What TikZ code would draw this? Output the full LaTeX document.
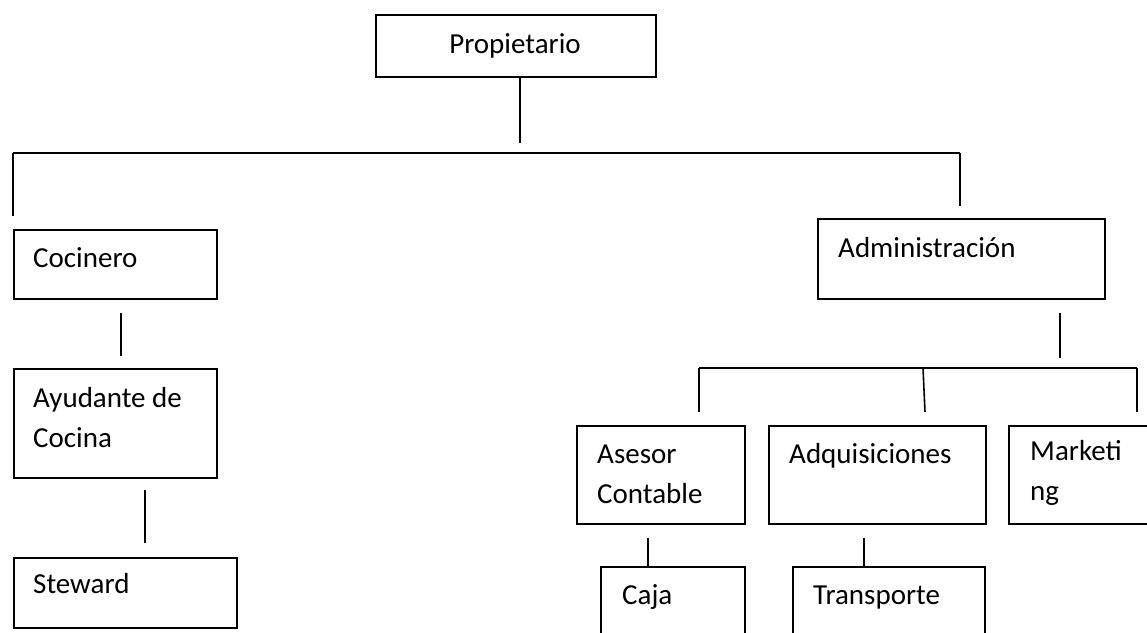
\documentclass[tikz,border=0pt]{standalone}
\usepackage{fontspec}
\setmainfont{Carlito}
\usetikzlibrary{calc}
\newcommand{\lh}{\rule{0pt}{24pt}}
\begin{document}
\begin{tikzpicture}[x=1pt,y=-1pt,
  box/.style={draw, line width=1.6pt, rectangle, anchor=north west, inner sep=0pt},
  lbl/.style={anchor=north west, inner sep=0pt, align=left, font=\fontsize{29}{40.5}\selectfont},
  link/.style={line width=1.6pt}]
\useasboundingbox (0,0) rectangle (1147,632);
% boxes
\node[box, minimum width=280pt, minimum height=62pt] (prop) at (375,14) {};
\node[box, minimum width=203pt, minimum height=69pt] (coc) at (13,229) {};
\node[box, minimum width=203pt, minimum height=109pt] (ayu) at (13,368) {};
\node[box, minimum width=223pt, minimum height=70pt] (stew) at (13,557) {};
\node[box, minimum width=287pt, minimum height=80pt] (adm) at (817,218) {};
\node[box, minimum width=168pt, minimum height=98pt] (ase) at (576,425) {};
\node[box, minimum width=217pt, minimum height=98pt] (adq) at (768,425) {};
\node[box, minimum width=160pt, minimum height=98pt] (mkt) at (1008,425) {};
\node[box, minimum width=144pt, minimum height=90pt] (caja) at (600,566) {};
\node[box, minimum width=192pt, minimum height=90pt] (trans) at (792,566) {};
% texts
\node[anchor=base, inner sep=0pt, font=\fontsize{29}{40.5}\selectfont] (tprop) at (515,53) {Propietario};
\node[lbl] (tcoc) at (33,243) {\lh Cocinero};
\node[lbl] (tayu) at (33,383) {\lh Ayudante de\\Cocina};
\node[lbl] (tstew) at (33,569) {\lh Steward};
\node[lbl] (tadm) at (838,233) {\lh Administración};
\node[lbl] (tase) at (597,439) {\lh Asesor\\Contable};
\node[lbl] (tadq) at (789,439) {\lh Adquisiciones};
\node[lbl] (tmkt) at (1030,436) {\lh Marketi\\ng};
\node[lbl] (tcaja) at (622,580) {\lh Caja};
\node[lbl] (ttrans) at (813,580) {\lh Transporte};
% connectors
\coordinate (busL) at (13,153);
\coordinate (busR) at (960,153);
\draw[link] ($(prop.south)+(4,0)$) -- ($(prop.south)+(4,65)$);
\draw[link] (busL) -- (busR);
\draw[link] (busL) -- ($(coc.north west)+(0,-13)$);
\draw[link] (busR) -- ($(adm.north west)+(143,-12)$);
\draw[link] ($(coc.south)+(5.5,13)$) -- ($(ayu.north)+(5.5,-12)$);
\draw[link] ($(ayu.south)+(29.5,11)$) -- ($(stew.north)+(19.5,-14)$);
\coordinate (bus2L) at (699,368);
\coordinate (bus2R) at (1137,368);
\coordinate (bus2M) at (923,368);
\draw[link] ($(adm.south)+(98.5,13)$) -- ($(adm.south)+(98.5,58)$);
\draw[link] (bus2L) -- (bus2R);
\draw[link] (bus2L) -- ($(ase.north west)+(123,-13)$);
\draw[link] (bus2M) -- ($(adq.north west)+(157,-13)$);
\draw[link] (bus2R) -- ($(mkt.north west)+(129,-13)$);
\draw[link] ($(ase.south west)+(72,13)$) -- ($(caja.north west)+(48,0)$);
\draw[link] ($(adq.south west)+(96,13)$) -- ($(trans.north west)+(72,0)$);
\end{tikzpicture}
\end{document}
